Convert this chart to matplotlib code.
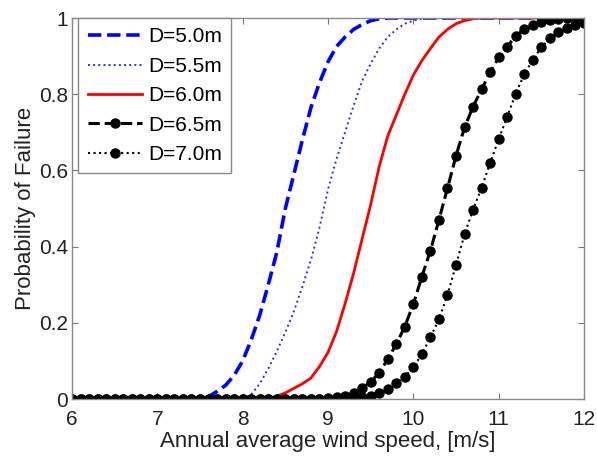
import numpy as np
import matplotlib
matplotlib.use('Agg')
import matplotlib.pyplot as plt

plt.rcParams['font.family'] = ['Liberation Sans', 'DejaVu Sans']

# wind speed grid, 0.1 m/s steps
wind = np.linspace(6, 12, 61)

# probability of failure
p50 = [0.0]*16 + [0.006, 0.02, 0.036, 0.062, 0.10, 0.155, 0.22, 0.30, 0.385, 0.50,
                  0.59, 0.68, 0.765, 0.83, 0.885, 0.925, 0.95, 0.97, 0.983, 0.993,
                  0.998] + [1.0]*24
p55 = [0.0]*21 + [0.012, 0.04, 0.08, 0.125, 0.175, 0.23, 0.295, 0.365, 0.45, 0.55,
                  0.63, 0.70, 0.77, 0.835, 0.88, 0.92, 0.95, 0.97, 0.985, 0.993,
                  0.998] + [1.0]*19
p60 = [0.0]*23 + [0.002, 0.007, 0.016, 0.028, 0.04, 0.055, 0.085, 0.122, 0.177, 0.25,
                  0.33, 0.42, 0.51, 0.61, 0.69, 0.745, 0.80, 0.85, 0.888, 0.92,
                  0.95, 0.97, 0.985, 0.993, 0.998] + [1.0]*13
p65 = [0.0]*30 + [0.002, 0.004, 0.008, 0.015, 0.028, 0.045, 0.069, 0.104, 0.144, 0.19,
                  0.249, 0.321, 0.389, 0.47, 0.553, 0.638, 0.713, 0.767, 0.813, 0.857,
                  0.897, 0.925, 0.953, 0.97, 0.981, 0.99, 0.995, 0.998, 0.999, 1.0,
                  1.0]
p70 = [0.0]*33 + [0.002, 0.004, 0.008, 0.017, 0.025, 0.041, 0.059, 0.083, 0.118, 0.162,
                  0.209, 0.273, 0.352, 0.432, 0.497, 0.555, 0.619, 0.682, 0.741, 0.801,
                  0.853, 0.89, 0.923, 0.947, 0.964, 0.973, 0.982, 0.988]

labels = ['D=5.0m', 'D=5.5m', 'D=6.0m', 'D=6.5m', 'D=7.0m']
xticks = [6, 7, 8, 9, 10, 11, 12]
yticks = [0, 0.2, 0.4, 0.6, 0.8, 1]
yticklabels = ['0', '0.2', '0.4', '0.6', '0.8', '1']

fig = plt.figure(figsize=(5.97, 4.57), dpi=100)
ax = fig.add_axes([0.1206, 0.1269, 0.8576, 0.8337])

ax.plot(wind, p50, '--', color='#0000ff', lw=2.6, label=labels[0])
ax.plot(wind, p55, ':', color='#2a2aff', lw=1.4, label=labels[1])
ax.plot(wind, p60, '-', color='#ff0000', lw=2.0, label=labels[2])
ax.plot(wind, p65, '--', color='k', lw=2.2, marker='o', ms=6.5, label=labels[3])
ax.plot(wind, p70, ':', color='k', lw=1.5, marker='o', ms=6.5, label=labels[4])

ax.set_xlim(6, 12)
ax.set_ylim(0, 1)
ax.set_xticks(xticks)
ax.set_yticks(yticks)
ax.set_yticklabels(yticklabels)
ax.tick_params(direction='in', top=True, right=True, length=4, width=0.8,
               colors='#777777', labelcolor='#222222', labelsize=15, pad=3)
ax.tick_params(axis='x', pad=8)
for s in ax.spines.values():
    s.set_color('#888888')
    s.set_linewidth(1.0)

ax.set_xlabel('Annual average wind speed, [m/s]', fontsize=16, color='#222222', labelpad=1)
ax.set_ylabel('Probability of Failure', fontsize=16, color='#222222', labelpad=2)

leg = ax.legend(loc='upper left', bbox_to_anchor=(0.012, 1.0), borderaxespad=0,
                handlelength=2.6, handletextpad=0.3, labelspacing=0.5, borderpad=0.45,
                fancybox=False, edgecolor='#888888', framealpha=1, fontsize=15)
leg.get_frame().set_linewidth(1.0)

fig.savefig('out.png', dpi=100)
